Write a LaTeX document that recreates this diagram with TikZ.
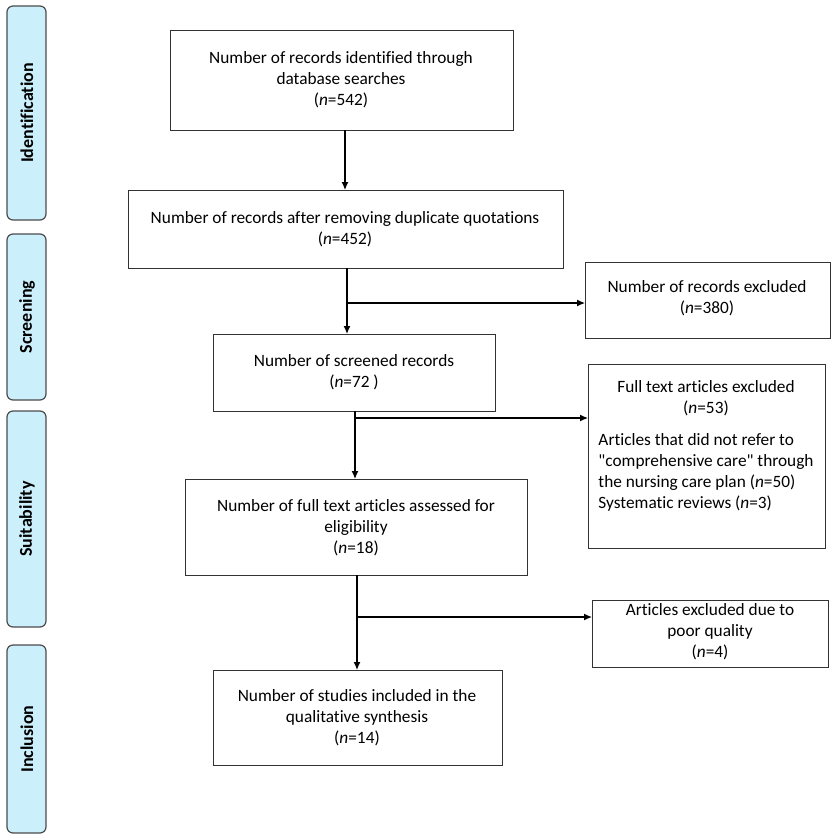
\documentclass[tikz,border=0pt]{standalone}
\usepackage{fontspec}
\setmainfont{Carlito}[Ligatures={NoCommon}]
\usetikzlibrary{arrows.meta}
\begin{document}
\begin{tikzpicture}[x=1pt,y=-1pt,
 box/.style={draw=black!80,line width=0.9pt,align=center,font=\fontsize{17.3}{21}\selectfont},
 side/.style={draw=black!70,line width=1.2pt,fill=cyan!20!white,rounded corners=6pt},
 sl/.style={rotate=90,font=\fontsize{18}{20}\selectfont\bfseries},
 arr/.style={line width=1.2pt,-{Latex[length=8pt,width=7pt]}}]
\useasboundingbox (0,0) rectangle (839,839);
\fill[white] (0,0) rectangle (839,839);
\foreach \a/\b/\t/\n in {6/220/Identification/s1,234/400/Screening/s2,411/627/Suitability/s3,645/833/Inclusion/s4}{
 \draw[side] (7,\a) rectangle (46,\b);
 \node[sl] (\n) at (27,{(\a+\b)/2}) {\t};}
\draw[box] (170,30) rectangle (513,130);
\node[box,draw=none] (b1) at (341,80) {Number of records identified through\\database searches\\(\textit{n}=542)};
\draw[box] (128,190) rectangle (563,268);
\node[box,draw=none] (b2) at (345,229) {Number of records after removing duplicate quotations\\(\textit{n}=452)};
\draw[box] (585,262) rectangle (830,338);
\node[box,draw=none] (b3) at (707,298) {Number of records excluded\\(\textit{n}=380)};
\draw[box] (213,334) rectangle (495,411);
\node[box,draw=none] (b4) at (354,372) {Number of screened records\\(\textit{n}=72 )};
\draw[box] (588,364) rectangle (825,548);
\node[box,draw=none] (b5a) at (706,398) {Full text articles excluded\\(\textit{n}=53)};
\node[box,draw=none,align=left] (b5b) at (706,472) {Articles that did not refer to\\\textquotedbl comprehensive care\textquotedbl{} through\\the nursing care plan (\textit{n}=50)\\Systematic reviews (\textit{n}=3)};
\draw[box] (185,479) rectangle (527,575);
\node[box,draw=none] (b6) at (356,528) {Number of full text articles assessed for\\eligibility\\(\textit{n}=18)};
\draw[box] (592,600) rectangle (828,667);
\node[box,draw=none] (b7) at (710,632) {Articles excluded due to\\poor quality\\(\textit{n}=4)};
\draw[box] (213,670) rectangle (502,765);
\node[box,draw=none] (b8) at (357,718) {Number of studies included in the\\qualitative synthesis\\(\textit{n}=14)};
\coordinate (c1) at (345,130); \coordinate (c1e) at (345,190);
\draw[arr] (c1) -- (c1e);
\coordinate (c2) at (347,268); \coordinate (c2e) at (347,334); \coordinate (c2m) at (347,303); \coordinate (c2r) at (585,303);
\draw[arr] (c2) -- (c2e); \draw[arr] (c2m) -- (c2r);
\coordinate (c3) at (355,411); \coordinate (c3e) at (355,479); \coordinate (c3m) at (355,418); \coordinate (c3r) at (588,418);
\draw[arr] (c3) -- (c3e); \draw[arr] (c3m) -- (c3r);
\coordinate (c4) at (357,575); \coordinate (c4e) at (357,670); \coordinate (c4m) at (357,617); \coordinate (c4r) at (592,617);
\draw[arr] (c4) -- (c4e); \draw[arr] (c4m) -- (c4r);
\end{tikzpicture}
\end{document}
